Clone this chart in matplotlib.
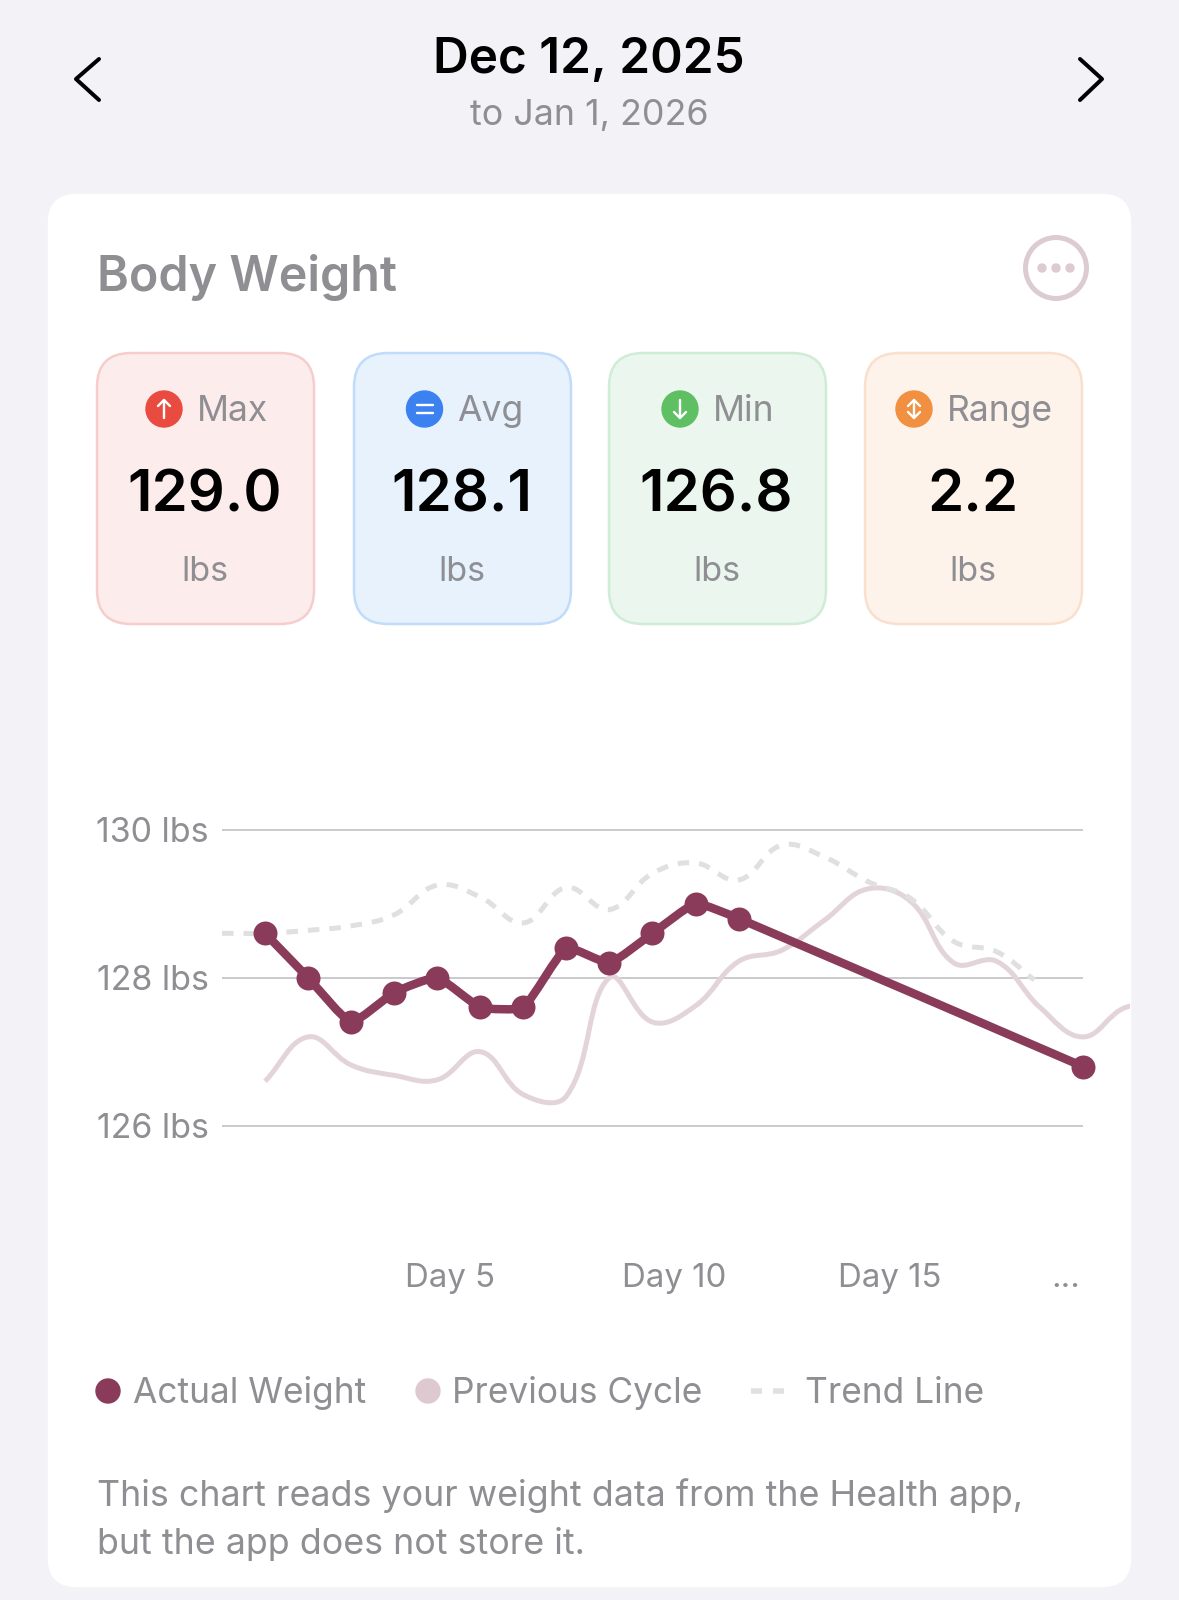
import numpy as np
from matplotlib import pyplot as plt
from matplotlib.patches import Circle, FancyBboxPatch, PathPatch
from matplotlib.path import Path

plt.rcParams["font.family"] = ["Inter", "DejaVu Sans"]

# Chart values. Day index 0 is the first plotted day
actual_days = [0, 1, 2, 3, 4, 5, 6, 7, 8, 9, 10, 11, 19]
actual_weight = [128.6, 128.0, 127.4, 127.8, 128.0, 127.6, 127.6, 128.4, 128.2, 128.6, 129.0, 128.8, 126.8]

previous_days = [0, 1, 2, 3, 4, 5, 6, 7, 8, 9, 10, 11, 12, 13, 14, 15, 16, 17, 18, 19, 20, 21]
previous_cycle = [126.6, 127.2, 126.82, 126.68, 126.62, 127.0, 126.42, 126.4, 128.0, 127.4, 127.62, 128.22,
                  128.37, 128.78, 129.2, 129.03, 128.2, 128.22, 127.6, 127.2, 127.6, 127.6]

trend_days = [-1, 0, 1, 2, 3, 4, 5, 6, 7, 8, 9, 10, 11, 12, 13, 14, 15, 16, 17, 17.87]
trend_line = [128.6, 128.6, 128.64, 128.7, 128.85, 129.25, 129.09, 128.74, 129.22, 128.92, 129.41, 129.55,
              129.32, 129.79, 129.63, 129.3, 129.07, 128.49, 128.35, 127.97]

y_ticks = [126, 128, 130]
y_tick_labels = ["126 lbs", "128 lbs", "130 lbs"]
x_ticks = [4.3, 9.5, 14.5, 18.6]
x_tick_labels = ["Day 5", "Day 10", "Day 15", "..."]

card_names = ["Max", "Avg", "Min", "Range"]
card_values = ["129.0", "128.1", "126.8", "2.2"]
legend_names = ["Actual Weight", "Previous Cycle", "Trend Line"]

W, H = 1179, 1600
GREY = "#8E8E93"
WINE = "#8A3B59"
PALE = "#E3D4DA"
DASH = "#E0E0E2"
px = 0.72  # one pixel in points at dpi 100


def smooth_path(xs, ys, tension):
    # Bezier through the points, the way Chart.js does it
    pts = np.column_stack([xs, ys]).astype(float)
    scale = np.array([43.05, 74.0])
    verts = [pts[0]]
    codes = [Path.MOVETO]
    ctrl_out = []
    ctrl_in = []
    for i in range(len(pts)):
        prev = pts[max(i - 1, 0)]
        nxt = pts[min(i + 1, len(pts) - 1)]
        d1 = np.hypot(*((pts[i] - prev) * scale))
        d2 = np.hypot(*((nxt - pts[i]) * scale))
        total = max(d1 + d2, 1e-6)
        ctrl_in.append(pts[i] - tension * d1 / total * (nxt - prev))
        ctrl_out.append(pts[i] + tension * d2 / total * (nxt - prev))
    for i in range(1, len(pts)):
        verts += [ctrl_out[i - 1], ctrl_in[i], pts[i]]
        codes += [Path.CURVE4] * 3
    return Path(np.array(verts), codes)


fig = plt.figure(figsize=(W / 100, H / 100), dpi=100, facecolor="#F2F2F7")

# Everything around the chart is laid out in pixels
ui = fig.add_axes([0, 0, 1, 1])
ui.set_xlim(0, W)
ui.set_ylim(H, 0)
ui.axis("off")


def box(x0, y0, x1, y1, radius, face, edge=None):
    ui.add_patch(FancyBboxPatch((x0, y0), x1 - x0, y1 - y0, boxstyle=f"round,pad=0,rounding_size={radius}",
                                facecolor=face, edgecolor=edge or face, linewidth=2.5 * px))


def label(x, y, s, size, color=GREY, ha="left", weight="normal"):
    ui.text(x, y, s, fontsize=size * px, color=color, ha=ha, va="baseline", fontweight=weight)


# Header
ui.plot([99, 76, 99], [59, 79, 100], color="black", lw=4 * px, solid_capstyle="round", solid_joinstyle="round")
ui.plot([1080, 1102, 1080], [59, 79, 100], color="black", lw=4 * px, solid_capstyle="round", solid_joinstyle="round")
label(589, 73, "Dec 12, 2025", 49.5, "black", "center", "semibold")
label(589, 125, "to Jan 1, 2026", 35.8, GREY, "center")

# White card
box(49, 195, 1130, 1586, 28, "white")
label(97, 291, "Body Weight", 48.4, GREY, "left", "semibold")
ui.add_patch(Circle((1056, 268), 30.5, facecolor="white", edgecolor="#DDCBD2", linewidth=5 * px))
for dx in (-14, 0, 14):
    ui.add_patch(Circle((1056 + dx, 268), 4, color="#DDCBD2"))

# Stat tiles
tile_x = [(97, 314), (354, 571), (609, 826), (865, 1082)]
tile_face = ["#FDECEC", "#E7F2FD", "#EBF7EE", "#FEF3EB"]
tile_edge = ["#F6CDCD", "#C0DCFA", "#CFECD6", "#FADFCC"]
icon_x = [164, 424.5, 680, 914]
text_x = [197, 457, 713, 947]
icon_color = ["#EA4B40", "#3B82F0", "#5FBF63", "#F09040"]
for i, name in enumerate(card_names):
    x0, x1 = tile_x[i]
    mid = (x0 + x1) / 2
    box(x0, 353, x1, 624, 34, tile_face[i], tile_edge[i])
    ui.add_patch(Circle((icon_x[i], 409), 18, color=icon_color[i]))
    cx = icon_x[i]
    line = dict(color="white", lw=2.4 * px, solid_capstyle="round", solid_joinstyle="round")
    if name == "Avg":
        ui.plot([cx - 8, cx + 8], [405, 405], **line)
        ui.plot([cx - 8, cx + 8], [413, 413], **line)
    else:
        ui.plot([cx, cx], [400, 418], **line)
        if name in ("Max", "Range"):
            ui.plot([cx - 6, cx, cx + 6], [406, 400, 406], **line)
        if name in ("Min", "Range"):
            ui.plot([cx - 6, cx, cx + 6], [412, 418, 412], **line)
    label(text_x[i], 421, name, 35.5)
    label(mid - 1, 512, card_values[i], 58, "black", "center", "semibold")
    label(mid - 1, 581, "lbs", 34, GREY, "center")

# Legend and note
legend_x = [133, 452, 805]
ui.add_patch(Circle((108, 1391), 12, color=WINE))
ui.add_patch(Circle((428, 1391), 12, color="#DEC9D1"))
ui.plot([751, 785], [1391, 1391], color=DASH, lw=5.5 * px, linestyle=(0, (2, 2)))
for x, name in zip(legend_x, legend_names):
    label(x, 1403, name, 35.3)
label(97, 1506, "This chart reads your weight data from the Health app,", 35.8)
label(97, 1554, "but the app does not store it.", 35.8)

# Line chart. The axes run to the card edge so the previous cycle gets cut off there
left, right, top, bottom = 222, 1130, 780, 1250
ax = fig.add_axes([left / W, 1 - bottom / H, (right - left) / W, (bottom - top) / H])
ax.patch.set_alpha(0)
for spine in ax.spines.values():
    spine.set_visible(False)
ax.hlines(y_ticks, -1, 19, color="#CBCBCF", lw=2 * px, zorder=1)
ax.add_patch(PathPatch(smooth_path(previous_days, previous_cycle, 0.4), fill=False, edgecolor=PALE, lw=5 * px, zorder=2))
ax.add_patch(PathPatch(smooth_path(trend_days, trend_line, 0.4), fill=False, edgecolor=DASH, lw=5 * px,
                       linestyle=(0, (2.3, 2)), capstyle="butt", zorder=2))
ax.add_patch(PathPatch(smooth_path(actual_days, actual_weight, 0.15), fill=False, edgecolor=WINE, lw=8.5 * px, zorder=3))
ax.plot(actual_days, actual_weight, "o", color=WINE, ms=24 * px, mew=0, zorder=4)
ax.set_xlim(-1, (right - 265) / 43.05)
ax.set_ylim(128 - (bottom - 977.7) / 74, 128 + (977.7 - top) / 74)
ax.set_yticks(y_ticks, y_tick_labels, fontsize=34 * px, color=GREY)
ax.set_xticks(x_ticks, x_tick_labels, fontsize=33 * px, color=GREY)
ax.tick_params(axis="both", length=0)
ax.tick_params(axis="y", pad=13 * px)
ax.tick_params(axis="x", pad=13 * px)

fig.savefig("out.png", dpi=100, facecolor=fig.get_facecolor())
